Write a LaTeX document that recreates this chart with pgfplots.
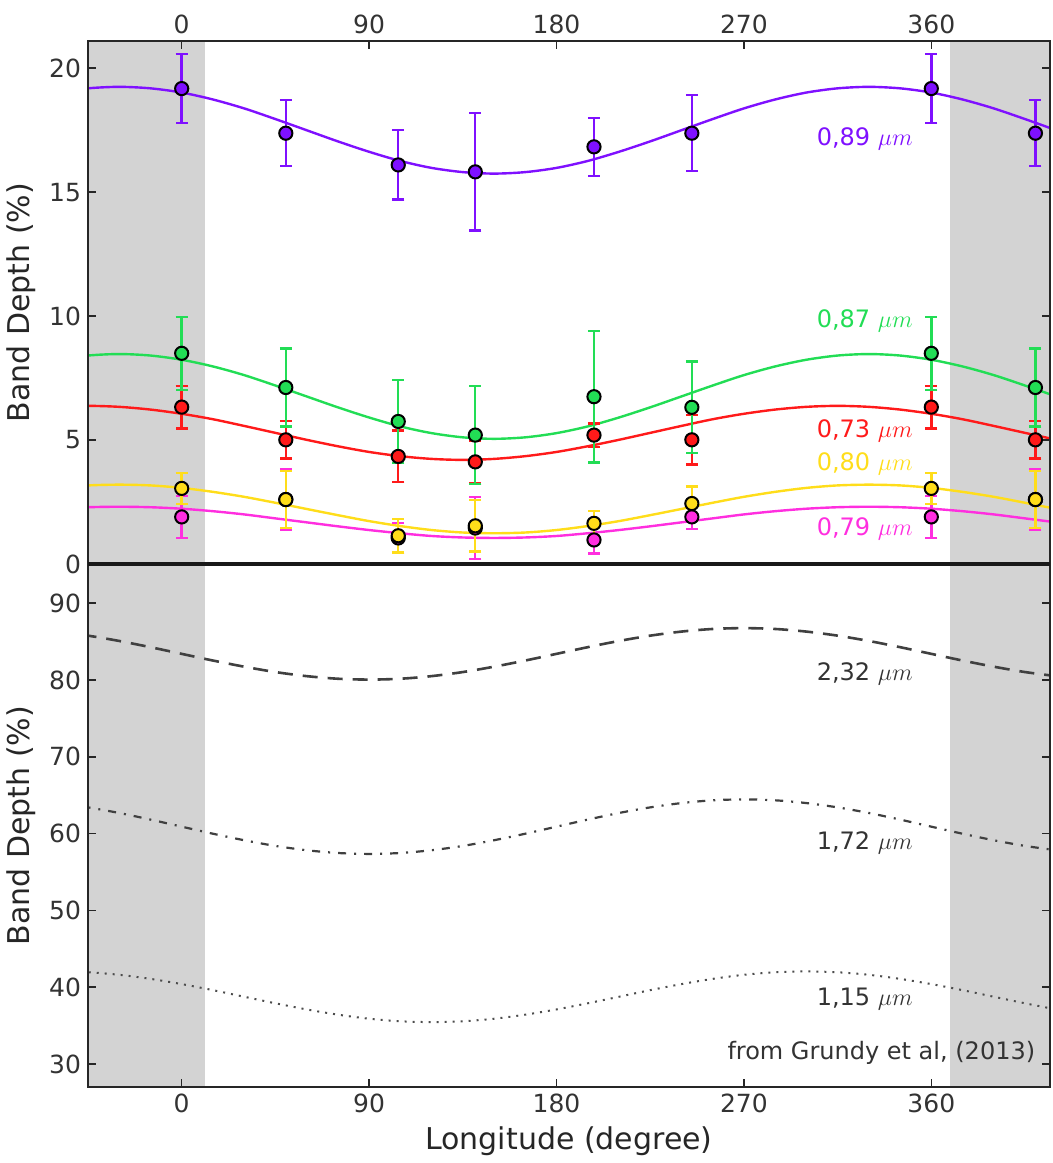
\documentclass[border=0pt]{standalone}
\usepackage{fontspec}
\setmainfont{DejaVu Sans}
\usepackage{pgfplots}
\pgfplotsset{compat=1.18}
\definecolor{purp}{HTML}{7F10FF}
\definecolor{grn}{HTML}{22DD55}
\definecolor{rd}{HTML}{FF1A1A}
\definecolor{yel}{HTML}{FFDD1A}
\definecolor{mag}{HTML}{FF2EDF}
\definecolor{bandgray}{HTML}{D3D3D3}
\tikzset{lab/.style={text=#1, font=\fontsize{12}{14}\selectfont}}
\begin{document}
\begin{tikzpicture}
\pgfplotsset{
  panel/.style={
    scale only axis, width=481pt, height=261.5pt,
    xmin=-45, xmax=417,
    xtick={0,90,180,270,360},
    tick align=inside,
    major tick length=4pt,
    ytick pos=both,
    yticklabel pos=left,
    axis line style={line width=1pt, black!85},
    every tick/.style={line width=0.8pt, black!85},
    tick label style={font=\fontsize{12.5}{14}\selectfont, text=black!80},
    label style={font=\fontsize{15}{18}\selectfont, text=black!85},
    /pgf/number format/assume math mode=true,
    axis on top,
  },
  ebar/.style={only marks, mark=*, mark size=3.3pt,
    mark options={fill=#1, draw=black, line width=1pt},
    error bars/.cd, y dir=both, y explicit,
    error bar style={#1, line width=1.2pt},
    error mark options={rotate=90, #1, mark size=3pt, line width=1.2pt}},
  curve/.style={#1, line width=1.2pt, smooth, mark=none},
}
% ---------------- top panel ----------------
\begin{axis}[panel, at={(0,261.5pt)},
  ymin=0, ymax=21.1, ytick={0,5,10,15,20},
  xtick pos=top, xticklabel pos=top,
  ylabel={Band Depth (\%)}]
\fill[bandgray] (axis cs:-45,0) rectangle (axis cs:11,21.1);
\fill[bandgray] (axis cs:369,0) rectangle (axis cs:417,21.1);

% 0.73 um
\addplot[curve=rd] coordinates {(-60,6.34)(-45,6.38)(-30,6.34)(-15,6.23)(0,6.06)(15,5.84)(30,5.57)(45,5.29)(60,5.01)(75,4.75)(90,4.52)(105,4.35)(120,4.24)(135,4.2)(150,4.24)(165,4.35)(180,4.52)(195,4.75)(210,5.01)(225,5.29)(240,5.57)(255,5.84)(270,6.06)(285,6.23)(300,6.34)(315,6.38)(330,6.34)(345,6.23)(360,6.06)(375,5.84)(390,5.57)(405,5.29)(420,5.01)};
% 0.79 um
\addplot[curve=mag] coordinates {(-60,2.23)(-45,2.29)(-30,2.31)(-15,2.29)(0,2.23)(15,2.13)(30,2.0)(45,1.84)(60,1.68)(75,1.52)(90,1.37)(105,1.24)(120,1.13)(135,1.07)(150,1.05)(165,1.07)(180,1.13)(195,1.24)(210,1.37)(225,1.52)(240,1.68)(255,1.84)(270,2.0)(285,2.13)(300,2.23)(315,2.29)(330,2.31)(345,2.29)(360,2.23)(375,2.13)(390,2.0)(405,1.84)(420,1.68)};
% 0.80 um
\addplot[curve=yel] coordinates {(-60,3.07)(-45,3.17)(-30,3.2)(-15,3.17)(0,3.07)(15,2.91)(30,2.71)(45,2.47)(60,2.22)(75,1.97)(90,1.73)(105,1.53)(120,1.37)(135,1.27)(150,1.24)(165,1.27)(180,1.37)(195,1.53)(210,1.73)(225,1.97)(240,2.22)(255,2.47)(270,2.71)(285,2.91)(300,3.07)(315,3.17)(330,3.2)(345,3.17)(360,3.07)(375,2.91)(390,2.71)(405,2.47)(420,2.22)};
% 0.87 um
\addplot[curve=grn] coordinates {(-60,8.24)(-45,8.41)(-30,8.47)(-15,8.41)(0,8.24)(15,7.97)(30,7.62)(45,7.2)(60,6.76)(75,6.32)(90,5.91)(105,5.55)(120,5.28)(135,5.11)(150,5.05)(165,5.11)(180,5.28)(195,5.55)(210,5.91)(225,6.32)(240,6.76)(255,7.2)(270,7.62)(285,7.97)(300,8.24)(315,8.41)(330,8.47)(345,8.41)(360,8.24)(375,7.97)(390,7.62)(405,7.2)(420,6.76)};
% 0.89 um
\addplot[curve=purp] coordinates {(-60,19.02)(-45,19.19)(-30,19.25)(-15,19.19)(0,19.02)(15,18.74)(30,18.38)(45,17.95)(60,17.5)(75,17.05)(90,16.63)(105,16.26)(120,15.98)(135,15.81)(150,15.75)(165,15.81)(180,15.98)(195,16.26)(210,16.63)(225,17.05)(240,17.5)(255,17.95)(270,18.38)(285,18.74)(300,19.02)(315,19.19)(330,19.25)(345,19.19)(360,19.02)(375,18.74)(390,18.38)(405,17.95)(420,17.5)};

\addplot[ebar=rd] coordinates {(0,6.33) +- (0,0.86) (50,5.01) +- (0,0.75) (104,4.34) +- (0,1.04) (141,4.12) +- (0,0.87) (198,5.2) +- (0,0.47) (245,5.01) +- (0,1.0) (360,6.33) +- (0,0.86) (410,5.01) +- (0,0.75)};
\addplot[ebar=mag] coordinates {(0,1.9) +- (0,0.85) (50,2.6) +- (0,1.23) (104,1.05) +- (0,0.6) (141,1.45) +- (0,1.25) (198,0.97) +- (0,0.54) (245,1.9) +- (0,0.5) (360,1.9) +- (0,0.85) (410,2.6) +- (0,1.23)};
\addplot[ebar=yel] coordinates {(0,3.05) +- (0,0.63) (50,2.6) +- (0,1.14) (104,1.14) +- (0,0.67) (141,1.54) +- (0,1.03) (198,1.64) +- (0,0.5) (245,2.44) +- (0,0.68) (360,3.05) +- (0,0.63) (410,2.6) +- (0,1.14)};
\addplot[ebar=grn] coordinates {(0,8.5) +- (0,1.47) (50,7.12) +- (0,1.57) (104,5.75) +- (0,1.67) (141,5.2) +- (0,1.98) (198,6.75) +- (0,2.65) (245,6.32) +- (0,1.85) (360,8.5) +- (0,1.47) (410,7.12) +- (0,1.57)};
\addplot[ebar=purp] coordinates {(0,19.18) +- (0,1.4) (50,17.38) +- (0,1.33) (104,16.1) +- (0,1.4) (141,15.82) +- (0,2.37) (198,16.83) +- (0,1.17) (245,17.38) +- (0,1.53) (360,19.18) +- (0,1.4) (410,17.38) +- (0,1.33)};

\node[lab=purp] at (axis cs:328,17.15) {0,89 $\mu m$};
\node[lab=grn] at (axis cs:328,9.8) {0,87 $\mu m$};
\node[lab=rd] at (axis cs:328,5.37) {0,73 $\mu m$};
\node[lab=yel] at (axis cs:328,4.03) {0,80 $\mu m$};
\node[lab=mag] at (axis cs:328,1.41) {0,79 $\mu m$};
\end{axis}
% ---------------- bottom panel ----------------
\begin{axis}[panel, at={(0,0)},
  ymin=27, ymax=95.1, ytick={30,40,50,60,70,80,90},
  xtick pos=bottom, xticklabel pos=bottom,
  ylabel={Band Depth (\%)}, xlabel={Longitude (degree)}]
\fill[bandgray] (axis cs:-45,27) rectangle (axis cs:11,95.1);
\fill[bandgray] (axis cs:369,27) rectangle (axis cs:417,95.1);
% 2.32 um
\addplot[black!75, line width=1.3pt, smooth, dash pattern=on 7.5pt off 5pt] coordinates {(-60,86.3)(-45,85.77)(-30,85.08)(-15,84.27)(0,83.4)(15,82.53)(30,81.73)(45,81.03)(60,80.5)(75,80.16)(90,80.05)(105,80.16)(120,80.5)(135,81.03)(150,81.73)(165,82.53)(180,83.4)(195,84.27)(210,85.08)(225,85.77)(240,86.3)(255,86.64)(270,86.75)(285,86.64)(300,86.3)(315,85.77)(330,85.08)(345,84.27)(360,83.4)(375,82.53)(390,81.73)(405,81.03)(420,80.5)};
% 1.72 um
\addplot[black!75, line width=1.1pt, smooth, dash pattern=on 4pt off 4pt on 1pt off 4pt] coordinates {(-60,63.97)(-45,63.41)(-30,62.68)(-15,61.82)(0,60.9)(15,59.98)(30,59.13)(45,58.39)(60,57.83)(75,57.47)(90,57.35)(105,57.47)(120,57.83)(135,58.39)(150,59.13)(165,59.98)(180,60.9)(195,61.82)(210,62.68)(225,63.41)(240,63.97)(255,64.33)(270,64.45)(285,64.33)(300,63.97)(315,63.41)(330,62.68)(345,61.82)(360,60.9)(375,59.98)(390,59.13)(405,58.39)(420,57.83)};
% 1.15 um
\addplot[black!70, line width=1pt, smooth, dash pattern=on 1pt off 3pt] coordinates {(-60,42.05)(-45,41.94)(-30,41.61)(-15,41.08)(0,40.4)(15,39.61)(30,38.75)(45,37.9)(60,37.1)(75,36.42)(90,35.89)(105,35.56)(120,35.45)(135,35.56)(150,35.89)(165,36.42)(180,37.1)(195,37.9)(210,38.75)(225,39.61)(240,40.4)(255,41.08)(270,41.61)(285,41.94)(300,42.05)(315,41.94)(330,41.61)(345,41.08)(360,40.4)(375,39.61)(390,38.75)(405,37.9)(420,37.1)};
\node[lab=black!80] at (axis cs:328,80.8) {2,32 $\mu m$};
\node[lab=black!80] at (axis cs:328,58.75) {1,72 $\mu m$};
\node[lab=black!80] at (axis cs:328,38.5) {1,15 $\mu m$};
\node[lab=black!80] at (axis cs:336,31.4) {from Grundy et al, (2013)};
\end{axis}
\draw[line width=2.2pt, black!90] (0,261.5pt) -- (481pt,261.5pt);
\pgfresetboundingbox
\path[use as bounding box] (-44pt,-38pt) rectangle (482.5pt,543.5pt);
\end{tikzpicture}
\end{document}
